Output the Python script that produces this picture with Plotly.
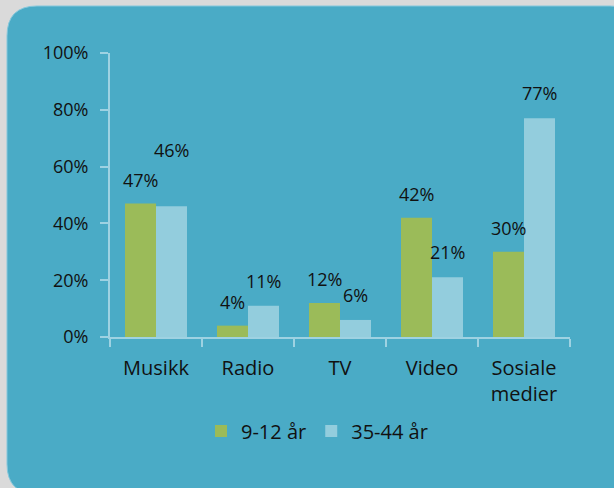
import plotly.graph_objects as go

categories = ["Musikk", "Radio", "TV", "Video", "Sosiale<br>medier"]
series_names = ["9-12 år", "35-44 år"]
values_young = [47, 4, 12, 42, 30]
values_adult = [46, 11, 6, 21, 77]
y_tickvals = [0, 20, 40, 60, 80, 100]
y_ticktext = ["0%", "20%", "40%", "60%", "80%", "100%"]

GREEN = "#9BBB59"
BLUE = "#93CDDD"
TEAL = "#4AABC6"
AXIS = "#9ED2E2"
TXT = "#111111"
FONT = "Open Sans"

W, H = 614, 488
ML, MR, MT, MB = 110, 44, 53, 151
PW, PH = W - ML - MR, H - MT - MB


def px(x):
    return (x - ML) / PW


def py(y):
    return (H - MB - y) / PH


fig = go.Figure()
fig.add_trace(go.Bar(x=categories, y=values_young, name=series_names[0],
                     marker=dict(color=GREEN, line=dict(width=0))))
fig.add_trace(go.Bar(x=categories, y=values_adult, name=series_names[1],
                     marker=dict(color=BLUE, line=dict(width=0))))

# value labels
annos = []
for i, c in enumerate(categories):
    annos.append(dict(x=c, y=values_young[i], xref="x", yref="y", text=f"{values_young[i]}%",
                      showarrow=False, xshift=-15.5, yshift=24, yanchor="middle",
                      font=dict(family=FONT, size=18, color=TXT)))
    annos.append(dict(x=c, y=values_adult[i], xref="x", yref="y", text=f"{values_adult[i]}%",
                      showarrow=False, xshift=15.5, yshift=56 if i == 0 else 25, yanchor="middle",
                      font=dict(family=FONT, size=18, color=TXT)))

# rounded panel
x0, x1, y0, y1, r = 7, 640, 6, 494, 30
path = (f"M {px(x0)},{py(y0 + r)} Q {px(x0)},{py(y0)} {px(x0 + r)},{py(y0)} "
        f"L {px(x1 - r)},{py(y0)} Q {px(x1)},{py(y0)} {px(x1)},{py(y0 + r)} "
        f"L {px(x1)},{py(y1 - r)} Q {px(x1)},{py(y1)} {px(x1 - r)},{py(y1)} "
        f"L {px(x0 + r)},{py(y1)} Q {px(x0)},{py(y1)} {px(x0)},{py(y1 - r)} Z")

fig.update_layout(
    width=W, height=H,
    margin=dict(l=ML, r=MR, t=MT, b=MB, pad=0),
    paper_bgcolor="#DADADA",
    plot_bgcolor="rgba(0,0,0,0)",
    barmode="group", bargap=0.326, bargroupgap=0,
    font=dict(family=FONT, size=18, color=TXT),
    shapes=[dict(type="path", path=path, xref="paper", yref="paper", layer="below",
                 fillcolor=TEAL, line=dict(color="#86C8DC", width=1))],
    annotations=annos,
    showlegend=True,
    legend=dict(orientation="h", x=px(317), xanchor="center", y=py(431), yanchor="middle",
                font=dict(family=FONT, size=20, color=TXT), bgcolor="rgba(0,0,0,0)",
                itemwidth=30, traceorder="normal"),
    xaxis=dict(type="category", range=[-0.5, 4.5], showline=True, linecolor=AXIS, linewidth=2,
               ticks="outside", ticklen=8, tickcolor=AXIS, tickwidth=2, tickson="boundaries",
               showgrid=False, zeroline=False, ticklabelstandoff=12,
               tickfont=dict(family=FONT, size=20, color=TXT)),
    yaxis=dict(range=[0, 100], tickvals=y_tickvals, ticktext=y_ticktext, showline=True,
               linecolor=AXIS, linewidth=2, ticks="outside", ticklen=8, tickcolor=AXIS,
               tickwidth=2, showgrid=False, zeroline=False, ticklabelstandoff=8,
               tickfont=dict(family=FONT, size=18, color=TXT)),
)

fig.write_html("out.html", config={"displayModeBar": False},
               post_script="document.body.style.margin='0';document.body.style.background='#DADADA';")
